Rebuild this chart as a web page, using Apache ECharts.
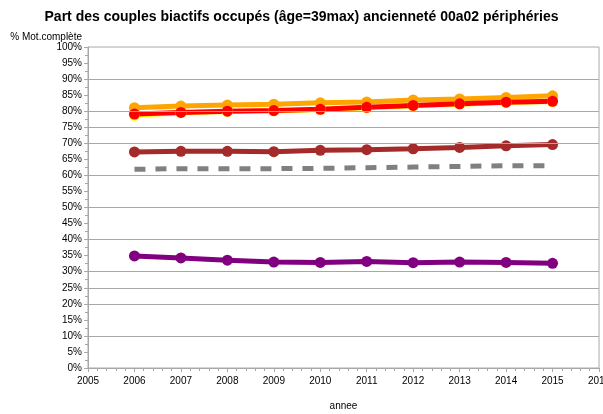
<!DOCTYPE html>
<html>
<head>
<meta charset="utf-8">
<script src="https://cdn.jsdelivr.net/npm/echarts@6/dist/echarts.min.js"></script>
<style>html,body{margin:0;padding:0;background:#fff}#c{width:603px;height:414px}</style>
</head>
<body>
<div id="c"></div>
<script>
const years = [2006, 2007, 2008, 2009, 2010, 2011, 2012, 2013, 2014, 2015];
const serieYellow = [78.7, 79.5, 79.9, 80.1, 80.5, 81.1, 81.7, 82.2, 82.7, 83.0];
const serieOrange = [81.1, 81.6, 81.9, 82.2, 82.6, 82.9, 83.5, 83.8, 84.3, 84.8];
const serieRed = [79.1, 79.6, 80.0, 80.2, 80.6, 81.2, 81.8, 82.3, 82.8, 83.1];
const serieBrown = [67.3, 67.5, 67.5, 67.4, 67.8, 68.0, 68.3, 68.7, 69.2, 69.6];
const serieGray = [61.9, 62.1, 62.1, 62.1, 62.2, 62.4, 62.6, 62.8, 63.0, 63.0];
const seriePurple = [34.9, 34.3, 33.6, 33.0, 32.9, 33.2, 32.8, 33.0, 32.9, 32.6];
const refLines = [10, 20, 25, 30, 40, 50, 60, 70, 75, 80, 90];

const pairs = arr => years.map((y, i) => [y, arr[i]]);
const gridColor = '#A8A8A8';
const lineSeries = (name, data, color, extra) => Object.assign({
  name: name,
  type: 'line',
  data: pairs(data),
  symbol: 'circle',
  symbolSize: 11,
  itemStyle: { color: color },
  lineStyle: { color: color, width: 5 },
  animation: false
}, extra || {});

const chart = echarts.init(document.getElementById('c'), null, { renderer: 'canvas' });
chart.setOption({
  animation: false,
  backgroundColor: '#fff',
  textStyle: { fontFamily: 'Liberation Sans, Arial, sans-serif' },
  title: {
    text: 'Part des couples biactifs occupés (âge=39max) ancienneté 00a02 périphéries',
    left: 'center',
    top: 5,
    textStyle: { fontSize: 14, fontWeight: 'bold', color: '#000', fontFamily: 'Liberation Sans, Arial, sans-serif' }
  },
  grid: {
    left: 88, right: 4, top: 47, bottom: 46,
    outerBoundsMode: 'none',
    containLabel: false,
    show: true, borderColor: gridColor, borderWidth: 1, backgroundColor: 'transparent'
  },
  xAxis: {
    type: 'value',
    min: 2005, max: 2016, interval: 1,
    name: 'annee',
    nameLocation: 'middle',
    nameGap: 33,
    nameTextStyle: { fontSize: 10, color: '#000' },
    axisLine: { show: true, lineStyle: { color: gridColor } },
    axisTick: { show: true, length: 4, lineStyle: { color: gridColor } },
    minorTick: { show: true, splitNumber: 5, length: 3, lineStyle: { color: gridColor } },
    axisLabel: { fontSize: 10, color: '#000', margin: 8, formatter: v => String(v), hideOverlap: false },
    splitLine: { show: false }
  },
  yAxis: {
    type: 'value',
    min: 0, max: 100, interval: 5,
    name: '% Mot.complète',
    nameLocation: 'end',
    nameGap: 5,
    nameTextStyle: { fontSize: 10, color: '#000', align: 'right', padding: [0, 6, 0, 0] },
    axisLine: { show: true, lineStyle: { color: gridColor } },
    axisTick: { show: true, length: 4, lineStyle: { color: gridColor } },
    minorTick: { show: true, splitNumber: 2, length: 3, lineStyle: { color: gridColor } },
    axisLabel: { fontSize: 10, color: '#000', margin: 6, formatter: v => v + '%' },
    splitLine: { show: false }
  },
  series: [
    {
      name: 'ref', type: 'line', data: [], silent: true,
      markLine: {
        silent: true, symbol: 'none', label: { show: false },
        lineStyle: { color: gridColor, width: 1, type: 'solid' },
        data: refLines.map(v => ({ yAxis: v }))
      }
    },
    lineSeries('jaune', serieYellow, '#FFFF00'),
    lineSeries('orange', serieOrange, '#FFA500'),
    lineSeries('rouge', serieRed, '#FF0000'),
    lineSeries('brun', serieBrown, '#A52A2A'),
    lineSeries('gris', serieGray, '#808080', {
      symbol: 'none',
      lineStyle: { color: '#808080', width: 5, type: [11, 10], cap: 'butt' }
    }),
    lineSeries('violet', seriePurple, '#800080')
  ]
});
</script>
</body>
</html>
